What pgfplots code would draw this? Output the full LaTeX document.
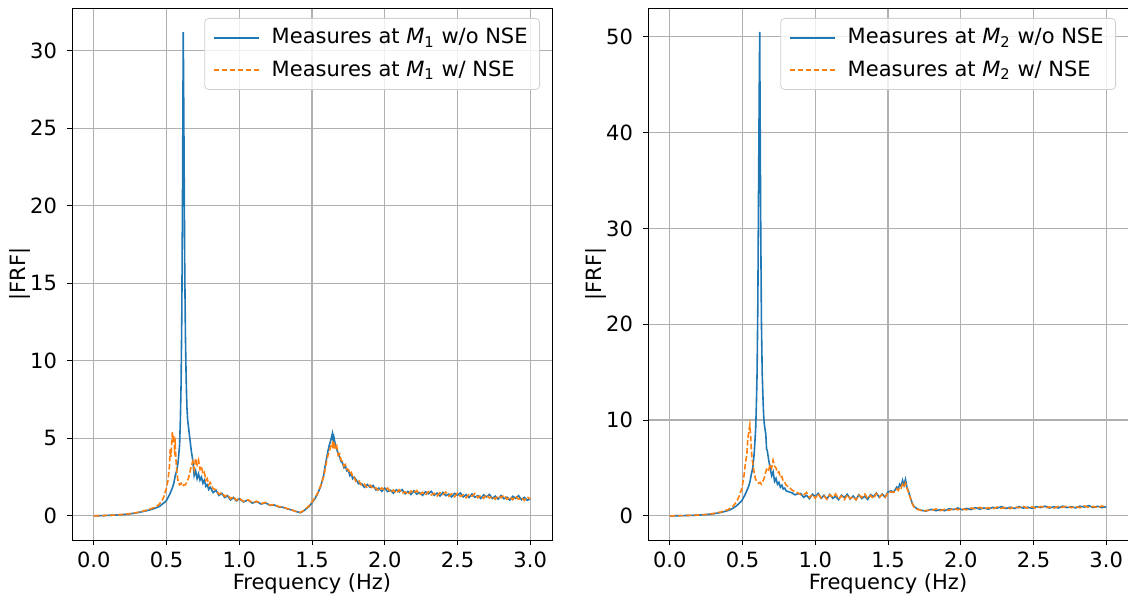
\documentclass[border=0pt]{standalone}
\usepackage{pgfplots}
\pgfplotsset{compat=1.18}
\usepackage{fontspec}
\setmainfont{DejaVu Sans}
\definecolor{tabblue}{HTML}{1F77B4}
\definecolor{taborange}{HTML}{FF7F0E}
\definecolor{gridgray}{HTML}{B0B0B0}
\tikzset{
  blueline/.style={draw=tabblue, color=tabblue, line width=0.8pt},
  orangeline/.style={draw=taborange, color=taborange, line width=0.8pt, dash pattern=on 2.8pt off 1.2pt},
}
\pgfplotsset{
  frfstyle/.style={
    scale only axis, width=240pt, height=266pt,
    xmin=-0.15, xmax=3.15,
    xtick={0,0.5,1,1.5,2,2.5,3},
    xticklabel style={/pgf/number format/.cd, fixed, fixed zerofill, precision=1},
    /pgf/number format/assume math mode=true,
    tick label style={font=\fontsize{10.5}{12}\selectfont},
    yticklabel style={xshift=-1.5pt},
    label style={font=\fontsize{10.5}{12.6}\selectfont},
    xlabel={Frequency (Hz)}, ylabel={|FRF|},
    xlabel style={at={(axis description cs:0.5,-0.083)}, anchor=center},
    ylabel style={at={(axis description cs:-0.108,0.5)}, anchor=center},
    tick align=outside, major tick length=2.5pt,
    tick style={black, line width=0.4pt},
    xtick pos=bottom, ytick pos=left,
    grid=major, major grid style={gridgray, line width=0.55pt},
    axis line style={line width=0.45pt},
    legend style={at={(1,1)}, anchor=north east, xshift=-6pt, yshift=-5pt,
      draw=black!18, rounded corners=2pt, fill=white, fill opacity=0.8, text opacity=1,
      font=\fontsize{10.5}{12.6}\selectfont, inner xsep=4pt, inner ysep=3pt,
      row sep=3pt},
    legend cell align=left,
    legend image code/.code={\path[draw=none] (-0.5pt,0pt) -- (27pt,0pt); \draw[#1, line width=0.9pt] (0pt,0pt) -- (22.5pt,0pt);},
  },
}
\begin{document}
\begin{tikzpicture}
\useasboundingbox (0,0) rectangle (564pt,299.5pt);
\begin{axis}[frfstyle, at={(36pt,29.5pt)}, anchor=south west,
  ymin=-1.56, ymax=32.76, ytick={0,5,10,15,20,25,30}]
\addplot[blueline] coordinates {
(0.00,0.00)(0.05,0.01)(0.10,0.03)(0.15,0.05)(0.20,0.08)(0.25,0.13)(0.30,0.20)(0.35,0.30)(0.40,0.42)(0.43,0.52)(0.45,0.60)(0.47,0.75)(0.49,0.90)(0.50,1.00)(0.52,1.35)(0.54,1.80)(0.55,2.10)(0.56,2.60)(0.57,2.90)(0.58,3.50)(0.59,4.60)(0.595,6.2)(0.60,8.5)(0.605,13.0)(0.61,21.0)(0.615,31.2)(0.62,24.0)(0.625,16.0)(0.63,11.5)(0.635,8.8)(0.64,7.0)(0.645,6.2)(0.65,5.8)(0.655,5.4)(0.66,5.0)(0.67,4.2)(0.68,3.6)(0.685,3.1)(0.69,2.6)(0.70,2.9)(0.71,2.4)(0.72,2.7)(0.73,2.3)(0.74,2.5)(0.75,2.1)(0.76,2.3)(0.77,1.9)(0.78,2.0)(0.79,1.7)(0.80,1.85)(0.82,1.5)(0.84,1.65)(0.86,1.32)(0.88,1.45)(0.90,1.18)(0.92,1.3)(0.94,1.02)(0.96,1.18)(0.98,0.96)(1.00,1.1)(1.03,0.9)(1.06,1.02)(1.09,0.82)(1.12,0.92)(1.15,0.76)(1.18,0.84)(1.21,0.68)(1.24,0.70)(1.27,0.58)(1.30,0.55)(1.33,0.45)(1.36,0.38)(1.39,0.28)(1.42,0.20)(1.44,0.30)(1.46,0.45)(1.48,0.60)(1.50,0.85)(1.52,1.10)(1.54,1.45)(1.56,1.90)(1.58,2.60)(1.59,3.20)(1.60,3.70)(1.61,4.20)(1.62,4.60)(1.63,4.90)(1.64,5.30)(1.645,4.9)(1.65,5.1)(1.66,4.6)(1.67,4.3)(1.68,4.0)(1.69,3.8)(1.70,3.5)(1.71,3.4)(1.72,3.1)(1.73,3.2)(1.74,2.9)(1.75,2.95)(1.76,2.6)(1.77,2.7)(1.78,2.4)(1.79,2.5)
(1.80,2.37)(1.82,2.07)(1.84,2.08)(1.86,1.84)(1.88,2.02)(1.90,1.84)(1.92,1.96)(1.94,1.67)(1.96,1.79)(1.98,1.58)(2.00,1.79)(2.02,1.56)(2.04,1.65)(2.06,1.46)(2.08,1.68)(2.10,1.54)(2.12,1.69)(2.14,1.42)(2.16,1.57)(2.18,1.38)(2.20,1.61)(2.22,1.40)(2.24,1.50)(2.26,1.32)(2.28,1.55)(2.30,1.42)(2.32,1.58)(2.34,1.32)(2.36,1.47)(2.38,1.28)(2.40,1.51)(2.42,1.30)(2.44,1.40)(2.46,1.22)(2.48,1.45)(2.50,1.32)(2.52,1.48)(2.54,1.22)(2.56,1.37)(2.58,1.18)(2.60,1.41)(2.62,1.20)(2.64,1.30)(2.66,1.12)(2.68,1.35)(2.70,1.22)(2.72,1.38)(2.74,1.12)(2.76,1.27)(2.78,1.08)(2.80,1.31)(2.82,1.10)(2.84,1.20)(2.86,1.02)(2.88,1.26)(2.90,1.13)(2.92,1.30)(2.94,1.04)(2.96,1.19)(2.98,1.00)(3.00,1.10)
};
\addlegendentry{Measures at \textit{M}\textsubscript{1} w/o NSE}
\addplot[orangeline] coordinates {
(0.00,0.00)(0.05,0.01)(0.10,0.03)(0.15,0.05)(0.20,0.09)(0.25,0.14)(0.30,0.22)(0.35,0.33)(0.40,0.48)(0.43,0.60)(0.45,0.75)(0.47,1.0)(0.48,1.2)(0.49,1.5)(0.50,1.8)(0.51,2.3)(0.52,3.2)(0.525,4.3)(0.53,3.8)(0.535,4.6)(0.54,5.4)(0.545,5.0)(0.55,5.2)(0.555,4.3)(0.56,4.6)(0.565,3.6)(0.57,2.9)(0.575,2.5)(0.58,2.2)(0.59,2.0)(0.60,2.1)(0.61,1.9)(0.62,2.0)(0.63,2.0)(0.64,2.2)(0.65,2.4)(0.66,2.8)(0.67,3.2)(0.68,3.5)(0.69,3.0)(0.70,3.7)(0.71,3.3)(0.72,3.6)(0.73,3.0)(0.74,3.2)(0.75,2.7)(0.76,2.8)(0.77,2.3)(0.78,2.4)(0.79,2.0)(0.80,2.15)(0.82,1.75)(0.84,1.68)(0.86,1.4)(0.88,1.5)(0.90,1.25)(0.92,1.35)(0.94,1.1)(0.96,1.24)(0.98,1.0)(1.00,1.14)(1.03,0.92)(1.06,1.04)(1.09,0.85)(1.12,0.94)(1.15,0.79)(1.18,0.86)(1.21,0.70)(1.24,0.72)(1.27,0.60)(1.30,0.56)(1.33,0.46)(1.36,0.38)(1.39,0.28)(1.42,0.22)(1.44,0.32)(1.46,0.48)(1.48,0.65)(1.50,0.90)(1.52,1.15)(1.54,1.50)(1.56,1.95)(1.58,2.50)(1.59,3.0)(1.60,3.5)(1.61,3.9)(1.62,4.2)(1.63,4.5)(1.64,4.7)(1.645,4.3)(1.65,4.8)(1.66,4.3)(1.67,4.5)(1.68,3.9)(1.69,4.0)(1.70,3.6)(1.71,3.5)(1.72,3.2)(1.73,3.3)(1.74,3.0)(1.75,3.0)(1.76,2.7)(1.77,2.8)(1.78,2.5)(1.79,2.5)
(1.80,2.23)(1.82,2.30)(1.84,1.95)(1.86,2.04)(1.88,1.80)(1.90,1.98)(1.92,1.73)(1.94,1.80)(1.96,1.59)(1.98,1.80)(2.00,1.65)(2.02,1.79)(2.04,1.52)(2.06,1.66)(2.08,1.46)(2.10,1.68)(2.12,1.46)(2.14,1.55)(2.16,1.37)(2.18,1.60)(2.20,1.47)(2.22,1.63)(2.24,1.37)(2.26,1.52)(2.28,1.33)(2.30,1.56)(2.32,1.35)(2.34,1.45)(2.36,1.27)(2.38,1.50)(2.40,1.37)(2.42,1.53)(2.44,1.27)(2.46,1.42)(2.48,1.23)(2.50,1.46)(2.52,1.25)(2.54,1.35)(2.56,1.17)(2.58,1.40)(2.60,1.27)(2.62,1.43)(2.64,1.17)(2.66,1.32)(2.68,1.13)(2.70,1.36)(2.72,1.15)(2.74,1.25)(2.76,1.07)(2.78,1.30)(2.80,1.17)(2.82,1.33)(2.84,1.07)(2.86,1.22)(2.88,1.04)(2.90,1.27)(2.92,1.07)(2.94,1.17)(2.96,0.99)(2.98,1.22)(3.00,1.08)
};
\addlegendentry{Measures at \textit{M}\textsubscript{1} w/ NSE}
\end{axis}
\begin{axis}[frfstyle, at={(324pt,29.5pt)}, anchor=south west,
  ymin=-2.52, ymax=53.0, ytick={0,10,20,30,40,50}]
\addplot[blueline] coordinates {
(0.00,0.00)(0.05,0.01)(0.10,0.03)(0.15,0.05)(0.20,0.08)(0.25,0.13)(0.30,0.22)(0.35,0.35)(0.40,0.55)(0.43,0.75)(0.45,0.95)(0.47,1.2)(0.49,1.5)(0.50,1.7)(0.52,2.3)(0.54,3.0)(0.55,3.5)(0.56,4.3)(0.57,5.0)(0.58,6.5)(0.59,9.0)(0.595,11.5)(0.60,15.0)(0.605,22.0)(0.61,34.0)(0.615,45.0)(0.618,50.5)(0.62,44.0)(0.625,30.0)(0.63,20.0)(0.635,15.0)(0.64,12.5)(0.645,10.5)(0.65,9.5)(0.655,9.0)(0.66,8.5)(0.665,7.0)(0.67,6.8)(0.68,5.8)(0.69,5.0)(0.70,4.2)(0.71,4.6)(0.72,3.6)(0.73,3.9)(0.74,3.3)(0.75,3.5)(0.76,3.0)(0.77,3.2)(0.78,2.8)(0.79,2.9)(0.80,2.6)(0.82,2.5)(0.84,2.4)(0.86,2.2)(0.88,2.3)
(0.90,2.34)(0.92,1.93)(0.94,2.14)(0.96,1.79)(0.98,2.26)(1.00,2.01)(1.02,2.34)(1.04,1.83)(1.06,2.14)(1.08,1.77)(1.10,2.24)(1.12,1.83)(1.14,2.04)(1.16,1.69)(1.18,2.16)(1.20,1.91)(1.22,2.25)(1.24,1.75)(1.26,2.07)(1.28,1.71)(1.30,2.20)(1.32,1.81)(1.34,2.04)(1.36,1.72)(1.38,2.22)(1.40,2.01)(1.42,2.38)(1.44,1.92)(1.46,2.28)(1.48,1.96)(1.50,2.49)
(1.52,2.6)(1.54,2.5)(1.56,3.0)(1.57,2.8)(1.58,3.3)(1.59,3.1)(1.60,3.7)(1.61,3.2)(1.62,3.8)(1.63,3.0)(1.64,2.6)(1.65,2.1)(1.66,1.6)(1.67,1.2)(1.68,0.95)(1.70,0.75)(1.72,0.6)(1.74,0.55)(1.76,0.5)(1.78,0.6)
(1.80,0.68)(1.83,0.54)(1.86,0.65)(1.89,0.54)(1.92,0.74)(1.95,0.66)(1.98,0.82)(2.01,0.63)(2.04,0.78)(2.07,0.65)(2.10,0.86)(2.13,0.71)(2.16,0.82)(2.19,0.70)(2.22,0.89)(2.25,0.80)(2.28,0.96)(2.31,0.77)(2.34,0.90)(2.37,0.77)(2.40,0.96)(2.43,0.81)(2.46,0.90)(2.49,0.78)(2.52,0.96)(2.55,0.87)(2.58,1.01)(2.61,0.82)(2.64,0.95)(2.67,0.82)(2.70,1.01)(2.73,0.86)(2.76,0.95)(2.79,0.83)(2.82,1.01)(2.85,0.92)(2.88,1.06)(2.91,0.87)(2.94,1.00)(2.97,0.86)(3.00,0.95)
};
\addlegendentry{Measures at \textit{M}\textsubscript{2} w/o NSE}
\addplot[orangeline] coordinates {
(0.00,0.00)(0.05,0.01)(0.10,0.03)(0.15,0.05)(0.20,0.09)(0.25,0.15)(0.30,0.25)(0.35,0.40)(0.40,0.65)(0.43,0.95)(0.45,1.3)(0.47,1.8)(0.49,2.6)(0.50,3.3)(0.51,4.2)(0.52,5.5)(0.53,6.5)(0.535,7.8)(0.54,8.5)(0.545,9.0)(0.55,9.5)(0.555,8.5)(0.56,7.0)(0.565,6.0)(0.57,5.5)(0.58,4.5)(0.59,3.8)(0.60,3.6)(0.61,3.4)(0.62,3.5)(0.63,3.3)(0.64,3.6)(0.65,4.0)(0.66,4.6)(0.67,5.0)(0.68,4.8)(0.69,5.4)(0.70,5.0)(0.71,5.8)(0.72,5.2)(0.73,5.0)(0.74,4.5)(0.75,4.6)(0.76,4.0)(0.77,4.1)(0.78,3.6)(0.79,3.5)(0.80,3.2)(0.82,3.0)(0.84,2.7)(0.86,2.5)(0.88,2.4)(0.90,2.2)
(0.92,2.16)(0.94,2.45)(0.96,1.92)(0.98,2.22)(1.00,1.84)(1.02,2.30)(1.04,1.88)(1.06,2.08)(1.08,1.73)(1.10,2.20)(1.12,1.95)(1.14,2.28)(1.16,1.77)(1.18,2.08)(1.20,1.71)(1.22,2.19)(1.24,1.79)(1.26,2.01)(1.28,1.67)(1.30,2.16)(1.32,1.93)(1.34,2.28)(1.36,1.80)(1.38,2.14)(1.40,1.81)(1.42,2.32)(1.44,1.96)(1.46,2.22)(1.48,1.92)(1.50,2.45)
(1.52,2.5)(1.54,2.45)(1.56,2.8)(1.57,2.65)(1.58,3.0)(1.59,2.9)(1.60,3.3)(1.61,3.0)(1.62,3.4)(1.63,2.9)(1.64,2.5)(1.65,2.0)(1.66,1.55)(1.67,1.15)(1.68,0.9)(1.70,0.7)(1.72,0.6)(1.74,0.5)(1.76,0.55)(1.78,0.58)
(1.80,0.56)(1.83,0.72)(1.86,0.54)(1.89,0.69)(1.92,0.57)(1.95,0.78)(1.98,0.64)(2.01,0.74)(2.04,0.63)(2.07,0.82)(2.10,0.74)(2.13,0.89)(2.16,0.71)(2.19,0.85)(2.22,0.72)(2.25,0.92)(2.28,0.78)(2.31,0.88)(2.34,0.75)(2.37,0.94)(2.40,0.84)(2.43,0.99)(2.46,0.79)(2.49,0.93)(2.52,0.79)(2.55,0.99)(2.58,0.83)(2.61,0.93)(2.64,0.80)(2.67,0.99)(2.70,0.89)(2.73,1.04)(2.76,0.84)(2.79,0.98)(2.82,0.84)(2.85,1.04)(2.88,0.88)(2.91,0.98)(2.94,0.85)(2.97,1.03)(3.00,0.92)
};
\addlegendentry{Measures at \textit{M}\textsubscript{2} w/ NSE}
\end{axis}
\end{tikzpicture}
\end{document}
